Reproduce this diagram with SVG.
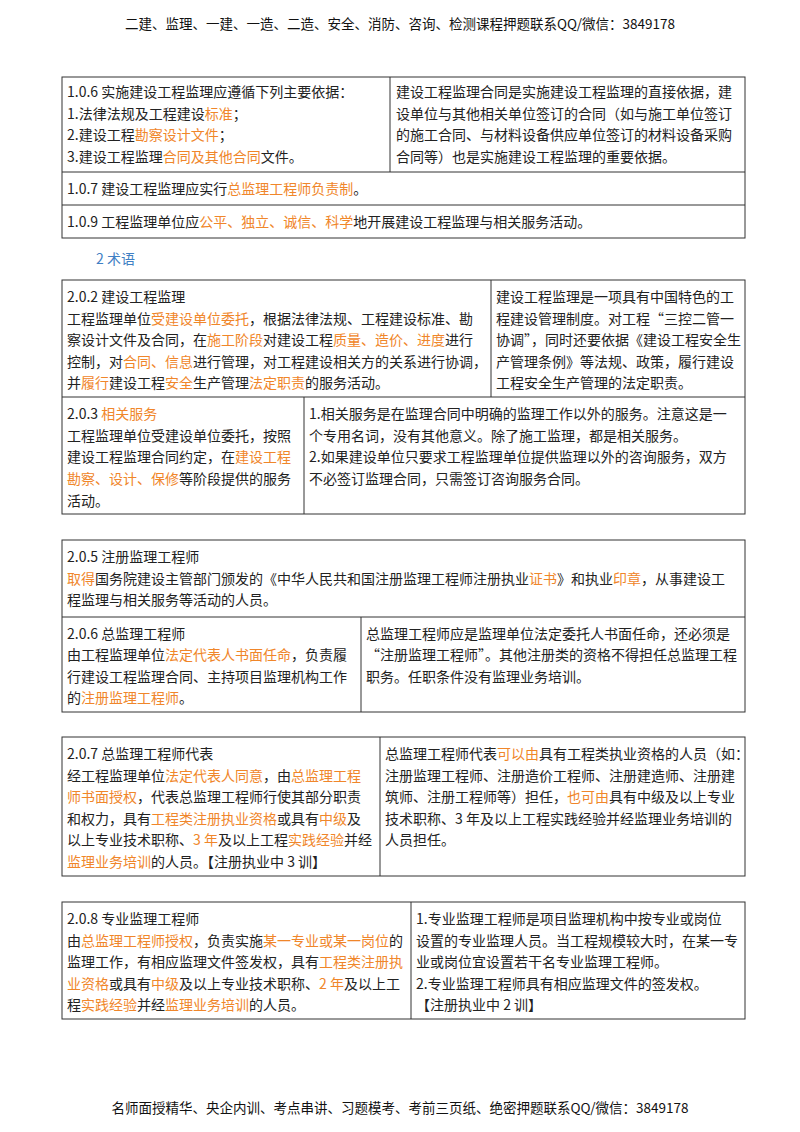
<svg xmlns="http://www.w3.org/2000/svg" width="800" height="1132" viewBox="0 0 800 1132">
<style>
text{font-family:"Noto Sans CJK SC","Noto Sans",sans-serif;font-size:14px;fill:#222}
.o{fill:#f0862a}
.hd{font-size:13.5px;fill:#111}
.b{fill:#3f7fc4}
rect,line{stroke:#333;stroke-width:1;fill:none}
</style>
<rect width="800" height="1132" fill="#fff" style="stroke:none"/>
<text class="hd" x="400" y="29" text-anchor="middle">二建、监理、一建、一造、二造、安全、消防、咨询、检测课程押题联系QQ/微信：3849178</text>

<g id="t1">
<rect x="62" y="77" width="683" height="161"/>
<line x1="62" y1="172" x2="745" y2="172"/>
<line x1="62" y1="205" x2="745" y2="205"/>
<line x1="390" y1="77" x2="390" y2="172"/>
<text x="67" y="97">1.0.6 实施建设工程监理应遵循下列主要依据：</text>
<text x="67" y="119">1.法律法规及工程建设<tspan class="o">标准</tspan>；</text>
<text x="67" y="140">2.建设工程<tspan class="o">勘察设计文件</tspan>；</text>
<text x="67" y="162">3.建设工程监理<tspan class="o">合同及其他合同</tspan>文件。</text>
<text x="396" y="97">建设工程监理合同是实施建设工程监理的直接依据，建</text>
<text x="396" y="119">设单位与其他相关单位签订的合同（如与施工单位签订</text>
<text x="396" y="140">的施工合同、与材料设备供应单位签订的材料设备采购</text>
<text x="396" y="162">合同等）也是实施建设工程监理的重要依据。</text>
<text x="67" y="194">1.0.7 建设工程监理应实行<tspan class="o">总监理工程师负责制</tspan>。</text>
<text x="67" y="227">1.0.9 工程监理单位应<tspan class="o">公平、独立、诚信、科学</tspan>地开展建设工程监理与相关服务活动。</text>
</g>

<text class="b" x="96" y="264">2 术语</text>

<g id="t2">
<rect x="62" y="280" width="683" height="234"/>
<line x1="62" y1="397" x2="745" y2="397"/>
<line x1="491" y1="280" x2="491" y2="397"/>
<line x1="304" y1="397" x2="304" y2="514"/>
<text x="67" y="302">2.0.2 建设工程监理</text>
<text x="67" y="324">工程监理单位<tspan class="o">受建设单位委托</tspan>，根据法律法规、工程建设标准、勘</text>
<text x="67" y="345">察设计文件及合同，在<tspan class="o">施工阶段</tspan>对建设工程<tspan class="o">质量、造价、进度</tspan>进行</text>
<text x="67" y="367">控制，对<tspan class="o">合同、信息</tspan>进行管理，对工程建设相关方的关系进行协调，</text>
<text x="67" y="388">并<tspan class="o">履行</tspan>建设工程<tspan class="o">安全</tspan>生产管理<tspan class="o">法定职责</tspan>的服务活动。</text>
<text x="496" y="302">建设工程监理是一项具有中国特色的工</text>
<text x="496" y="324">程建设管理制度。对工程“三控二管一</text>
<text x="496" y="345">协调”，同时还要依据《建设工程安全生</text>
<text x="496" y="367">产管理条例》等法规、政策，履行建设</text>
<text x="496" y="388">工程安全生产管理的法定职责。</text>
<text x="67" y="419">2.0.3 <tspan class="o">相关服务</tspan></text>
<text x="67" y="441">工程监理单位受建设单位委托，按照</text>
<text x="67" y="462">建设工程监理合同约定，在<tspan class="o">建设工程</tspan></text>
<text x="67" y="484"><tspan class="o">勘察、设计、保修</tspan>等阶段提供的服务</text>
<text x="67" y="506">活动。</text>
<text x="309" y="419">1.相关服务是在监理合同中明确的监理工作以外的服务。注意这是一</text>
<text x="309" y="441">个专用名词，没有其他意义。除了施工监理，都是相关服务。</text>
<text x="309" y="462">2.如果建设单位只要求工程监理单位提供监理以外的咨询服务，双方</text>
<text x="309" y="484">不必签订监理合同，只需签订咨询服务合同。</text>
</g>

<g id="t3">
<rect x="62" y="540" width="683" height="172"/>
<line x1="62" y1="617" x2="745" y2="617"/>
<line x1="361" y1="617" x2="361" y2="712"/>
<text x="67" y="562">2.0.5 注册监理工程师</text>
<text x="67" y="584"><tspan class="o">取得</tspan>国务院建设主管部门颁发的《中华人民共和国注册监理工程师注册执业<tspan class="o">证书</tspan>》和执业<tspan class="o">印章</tspan>，从事建设工</text>
<text x="67" y="605">程监理与相关服务等活动的人员。</text>
<text x="67" y="639">2.0.6 总监理工程师</text>
<text x="67" y="660">由工程监理单位<tspan class="o">法定代表人书面任命</tspan>，负责履</text>
<text x="67" y="682">行建设工程监理合同、主持项目监理机构工作</text>
<text x="67" y="703">的<tspan class="o">注册监理工程师</tspan>。</text>
<text x="366" y="639">总监理工程师应是监理单位法定委托人书面任命，还必须是</text>
<text x="366" y="660">“注册监理工程师”。其他注册类的资格不得担任总监理工程</text>
<text x="366" y="682">职务。任职条件没有监理业务培训。</text>
</g>

<g id="t4">
<rect x="62" y="737" width="683" height="139"/>
<line x1="380" y1="737" x2="380" y2="876"/>
<text x="67" y="759">2.0.7 总监理工程师代表</text>
<text x="67" y="781">经工程监理单位<tspan class="o">法定代表人同意</tspan>，由<tspan class="o">总监理工程</tspan></text>
<text x="67" y="802"><tspan class="o">师书面授权</tspan>，代表总监理工程师行使其部分职责</text>
<text x="67" y="824">和权力，具有<tspan class="o">工程类注册执业资格</tspan>或具有<tspan class="o">中级</tspan>及</text>
<text x="67" y="845">以上专业技术职称、<tspan class="o">3 年</tspan>及以上工程<tspan class="o">实践经验</tspan>并经</text>
<text x="67" y="867"><tspan class="o">监理业务培训</tspan>的人员。【注册执业中 3 训】</text>
<text x="385" y="759">总监理工程师代表<tspan class="o">可以由</tspan>具有工程类执业资格的人员（如：</text>
<text x="385" y="781">注册监理工程师、注册造价工程师、注册建造师、注册建</text>
<text x="385" y="802">筑师、注册工程师等）担任，<tspan class="o">也可由</tspan>具有中级及以上专业</text>
<text x="385" y="824">技术职称、3 年及以上工程实践经验并经监理业务培训的</text>
<text x="385" y="845">人员担任。</text>
</g>

<g id="t5">
<rect x="62" y="902" width="683" height="117"/>
<line x1="411" y1="902" x2="411" y2="1019"/>
<text x="67" y="924">2.0.8 专业监理工程师</text>
<text x="67" y="946">由<tspan class="o">总监理工程师授权</tspan>，负责实施<tspan class="o">某一专业或某一岗位</tspan>的</text>
<text x="67" y="967">监理工作，有相应监理文件签发权，具有<tspan class="o">工程类注册执</tspan></text>
<text x="67" y="989"><tspan class="o">业资格</tspan>或具有<tspan class="o">中级</tspan>及以上专业技术职称、<tspan class="o">2 年</tspan>及以上工</text>
<text x="67" y="1010">程<tspan class="o">实践经验</tspan>并经<tspan class="o">监理业务培训</tspan>的人员。</text>
<text x="416" y="924">1.专业监理工程师是项目监理机构中按专业或岗位</text>
<text x="416" y="946">设置的专业监理人员。当工程规模较大时，在某一专</text>
<text x="416" y="967">业或岗位宜设置若干名专业监理工程师。</text>
<text x="416" y="989">2.专业监理工程师具有相应监理文件的签发权。</text>
<text x="416" y="1010">【注册执业中 2 训】</text>
</g>

<text class="hd" x="400" y="1113" text-anchor="middle">名师面授精华、央企内训、考点串讲、习题模考、考前三页纸、绝密押题联系QQ/微信：3849178</text>
</svg>
